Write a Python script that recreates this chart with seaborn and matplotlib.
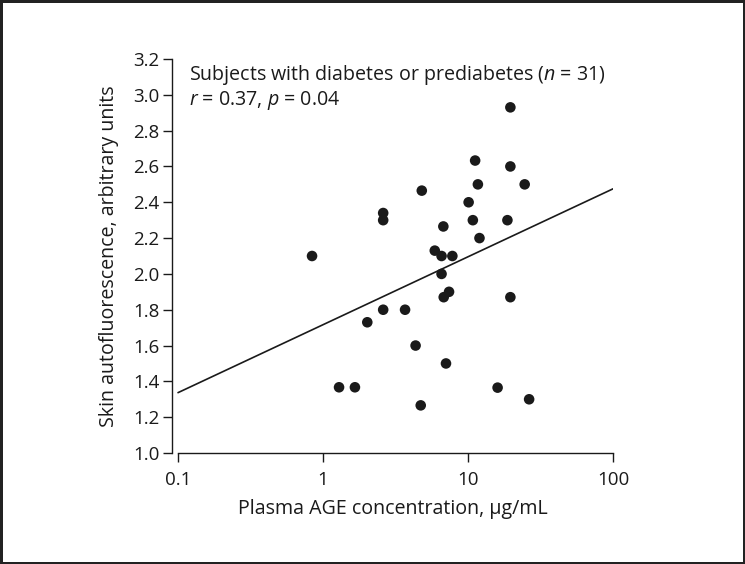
import numpy as np
import pandas as pd
import seaborn as sns
import matplotlib
matplotlib.use("Agg")
import matplotlib.pyplot as plt

# values
age_conc = [0.84, 2.6, 2.6, 4.8, 11.7, 24.6, 10.1, 6.76, 10.8, 18.7,
            12.0, 5.9, 6.57, 7.8, 6.57, 7.4, 6.8, 19.6, 2.6, 3.68,
            2.02, 19.6, 11.2, 19.6, 4.35, 7.05, 1.29, 1.66, 16.0, 4.72,
            26.4]
skin_af = [2.10, 2.34, 2.30, 2.465, 2.50, 2.50, 2.40, 2.265, 2.30, 2.30,
           2.20, 2.13, 2.10, 2.10, 2.00, 1.90, 1.87, 1.87, 1.80, 1.80,
           1.73, 2.93, 2.633, 2.60, 1.60, 1.50, 1.367, 1.367, 1.365, 1.266,
           1.30]
fit_x = [0.1, 100]
fit_y = [1.337, 2.475]

x_ticks = [0.1, 1, 10, 100]
x_ticklabels = ["0.1", "1", "10", "100"]
y_ticks = [1.0, 1.2, 1.4, 1.6, 1.8, 2.0, 2.2, 2.4, 2.6, 2.8, 3.0, 3.2]

df = pd.DataFrame({"conc": age_conc, "saf": skin_af})
fit = pd.DataFrame({"conc": fit_x, "saf": fit_y})

sns.set_theme(style="ticks")
plt.rcParams['font.family'] = ['Open Sans', 'DejaVu Sans']
plt.rcParams['mathtext.fontset'] = 'custom'
plt.rcParams['mathtext.rm'] = 'Open Sans'
plt.rcParams['mathtext.it'] = 'Open Sans:italic'

ink = "#1a1a1a"

fig = plt.figure(figsize=(7.45, 5.64), dpi=100)
fig.patch.set_edgecolor("#222222")
fig.patch.set_linewidth(2.5)
ax = fig.add_axes([0.2309, 0.1968, 0.5919, 0.6986])

sns.lineplot(data=fit, x="conc", y="saf", ax=ax, color=ink, linewidth=1.2)
sns.scatterplot(data=df, x="conc", y="saf", ax=ax, color=ink, s=58,
                edgecolor="none", zorder=3)

ax.set_xscale("log")
ax.set_xlim(0.0909, 100)
ax.set_ylim(1.0, 3.2)
ax.set_xticks(x_ticks)
ax.set_xticklabels(x_ticklabels)
ax.xaxis.set_minor_locator(matplotlib.ticker.NullLocator())
ax.set_yticks(y_ticks)
ax.set_yticklabels([f"{v:.1f}" for v in y_ticks])

for side in ["top", "right"]:
    ax.spines[side].set_visible(False)
ax.spines["bottom"].set_bounds(0.1, 100)
ax.spines["left"].set_bounds(1.0, 3.2)
for side in ["bottom", "left"]:
    ax.spines[side].set_linewidth(1.0)
    ax.spines[side].set_color(ink)

ax.tick_params(axis="both", length=6.5, width=1.0, color=ink,
               labelsize=13.5, labelcolor=ink, pad=2.5)
ax.tick_params(axis="x", pad=6.5)

ax.set_xlabel("Plasma AGE concentration, µg/mL", fontsize=14.1,
              color=ink, labelpad=7)
ax.set_ylabel("Skin autofluorescence, arbitrary units", fontsize=14.1,
              color=ink, labelpad=10)

ax.text(0.038, 0.96, "Subjects with diabetes or prediabetes ($n$ = 31)",
        transform=ax.transAxes, fontsize=14.1, color=ink, va="center")
ax.text(0.038, 0.895, "$r$ = 0.37, $p$ = 0.04",
        transform=ax.transAxes, fontsize=14.1, color=ink, va="center")

fig.savefig("out.png", dpi=100)
